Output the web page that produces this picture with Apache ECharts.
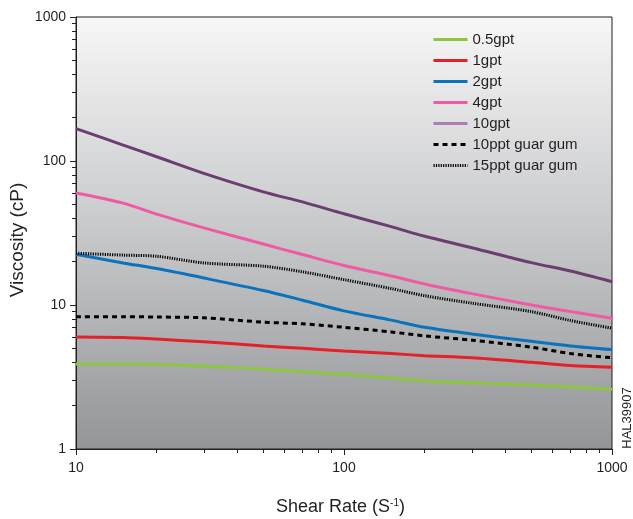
<!DOCTYPE html>
<html>
<head>
<meta charset="utf-8">
<script src="https://cdn.jsdelivr.net/npm/echarts@6/dist/echarts.min.js"></script>
<style>
html,body{margin:0;padding:0;background:#fff;}
#chart{width:633px;height:519px;}
</style>
</head>
<body>
<div id="chart"></div>
<script>
// Shear rates (S^-1)
var shearRates = [10, 15, 20, 30, 50, 70, 100, 150, 200, 300, 500, 700, 1000];
// Viscosity (cP)
var gpt05   = [3.9, 3.9, 3.88, 3.75, 3.6, 3.45, 3.3, 3.1, 2.97, 2.88, 2.78, 2.7, 2.6];
var gpt1    = [6.0, 5.95, 5.8, 5.55, 5.2, 5.0, 4.8, 4.6, 4.45, 4.3, 4.0, 3.8, 3.7];
var gpt2    = [22.5, 19.6, 17.9, 15.4, 12.6, 10.8, 9.1, 7.85, 7.0, 6.3, 5.6, 5.2, 4.9];
var gpt4    = [60, 51, 42.8, 34.3, 26.5, 22.4, 18.8, 15.9, 14.0, 12.0, 10.0, 9.0, 8.1];
var gpt10   = [168, 129, 107, 82, 61, 52, 43, 35, 30, 25, 19.7, 17.2, 14.5];
var guar10  = [8.3, 8.3, 8.25, 8.15, 7.6, 7.4, 7.0, 6.5, 6.1, 5.7, 5.1, 4.6, 4.3];
var guar15  = [22.9, 22.2, 21.8, 19.6, 18.6, 17.0, 15.0, 13.0, 11.6, 10.3, 9.0, 7.8, 6.9];
var seriesNames = ['0.5gpt', '1gpt', '2gpt', '4gpt', '10gpt', '10ppt guar gum', '15ppt guar gum'];
var xMinorTicks = [20, 30, 40, 50, 60, 70, 80, 90, 200, 300, 400, 500, 600, 700, 800, 900];
var yMinorTicks = [2,3,4,5,6,7,8,9,20,30,40,50,60,70,80,90,200,300,400,500,600,700,800,900];

function pairs(ys){ return shearRates.map(function(x,i){ return [x, ys[i]]; }); }

var chart = echarts.init(document.getElementById('chart'), null, {renderer:'canvas'});
var txt = '#231f20';
var font = 'Liberation Sans, Arial, sans-serif';

function mkSeries(name, data, color, width, type){
  return {
    name: name, type: 'line', data: pairs(data), smooth: 0.3,
    symbol: 'none', showSymbol: false,
    lineStyle: {color: color, width: width, type: type || 'solid'},
    itemStyle: {color: color},
    animation: false
  };
}

var option = {
  animation: false,
  grid: {
    left: 76, right: 21, top: 17, bottom: 70,
    outerBoundsMode: 'none', containLabel: false,
    show: true, borderColor: '#231f20', borderWidth: 1,
    backgroundColor: {
      type: 'linear', x: 0, y: 0, x2: 0, y2: 1,
      colorStops: [{offset: 0, color: '#f7f7f7'}, {offset: 0.5, color: '#c7c8ca'}, {offset: 1, color: '#939598'}]
    }
  },
  legend: {
    orient: 'vertical', left: 432, top: 32, padding: 0,
    itemWidth: 34, itemHeight: 14, itemGap: 6,
    itemStyle: {opacity: 0},
    lineStyle: {width: 3},
    textStyle: {color: txt, fontSize: 15, fontFamily: font},
    data: [
      {name: '0.5gpt'}, {name: '1gpt'}, {name: '2gpt'}, {name: '4gpt'},
      {name: '10gpt', lineStyle: {color: '#b07cb6', width: 3}},
      {name: '10ppt guar gum'}, {name: '15ppt guar gum'}
    ]
  },
  xAxis: [{
    type: 'log', logBase: 10, min: 10, max: 1000,
    name: 'Shear Rate (S{sup|-1})', nameLocation: 'middle', nameGap: 49, nameMoveOverlap: false,
    nameTextStyle: {color: txt, fontSize: 18, fontFamily: font, padding: [0, 7, 0, 0],
      rich: {sup: {fontSize: 10, verticalAlign: 'top', color: txt, fontFamily: font, padding: [0,0,8,0]}}},
    axisLine: {show: true, lineStyle: {color: txt, width: 1}},
    axisTick: {show: true, length: 6, inside: false, lineStyle: {color: txt}},
    axisLabel: {color: txt, fontSize: 14, fontFamily: font, margin: 12,
      formatter: function(v){ return String(v); }},
    splitLine: {show: false}
  }, {
    type: 'log', logBase: 10, min: 10, max: 1000, position: 'bottom',
    axisLine: {show: false},
    axisTick: {show: true, length: 4, customValues: xMinorTicks, lineStyle: {color: txt}},
    axisLabel: {show: false},
    splitLine: {show: false}
  }],
  yAxis: [{
    type: 'log', logBase: 10, min: 1, max: 1000,
    name: 'Viscosity (cP)', nameLocation: 'middle', nameGap: 49, nameRotate: 90, nameMoveOverlap: false,
    nameTextStyle: {color: txt, fontSize: 19, fontFamily: font, padding: [0, 14, 0, 0]},
    axisLine: {show: true, lineStyle: {color: txt, width: 1}},
    axisTick: {show: true, length: 6, lineStyle: {color: txt}},
    axisLabel: {color: txt, fontSize: 14, fontFamily: font, margin: 10,
      formatter: function(v){ return String(v); }},
    splitLine: {show: false}
  }, {
    type: 'log', logBase: 10, min: 1, max: 1000, position: 'left',
    axisLine: {show: false},
    axisTick: {show: true, length: 4, customValues: yMinorTicks, lineStyle: {color: txt}},
    axisLabel: {show: false},
    splitLine: {show: false}
  }],
  graphic: [{
    type: 'text', x: 627, y: 418, rotation: Math.PI / 2,
    style: {text: 'HAL39907', fill: txt, font: '13px ' + font, align: 'center', verticalAlign: 'middle'}
  }],
  series: [
    mkSeries('0.5gpt', gpt05, '#8dc63f', 3),
    mkSeries('1gpt', gpt1, '#e2212a', 3),
    mkSeries('2gpt', gpt2, '#0b72bd', 3),
    mkSeries('4gpt', gpt4, '#f05aa4', 3),
    mkSeries('10gpt', gpt10, '#6a3f6f', 3),
    mkSeries('10ppt guar gum', guar10, '#000000', 3, [5, 4]),
    mkSeries('15ppt guar gum', guar15, '#000000', 3, [1.2, 1.2])
  ]
};
chart.setOption(option);
</script>
</body>
</html>
